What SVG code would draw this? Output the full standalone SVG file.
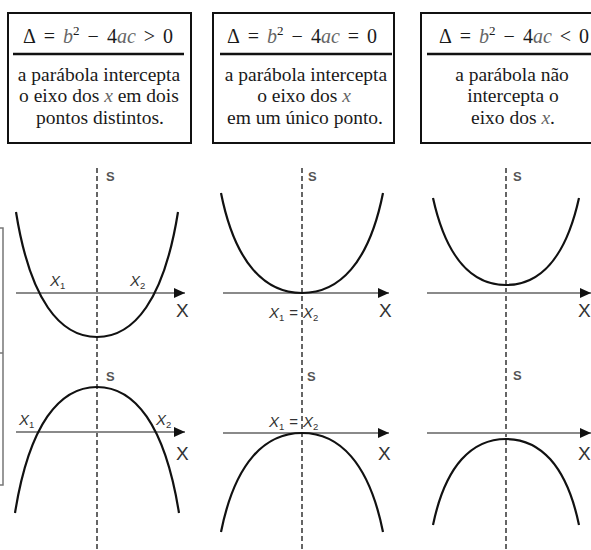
<svg xmlns="http://www.w3.org/2000/svg" width="591" height="550" viewBox="0 0 591 550">
<defs>
<style>
.box{fill:#fff;stroke:#111;stroke-width:2}
.div{stroke:#111;stroke-width:2.5}
.f{font-family:"Liberation Serif","Times New Roman",serif;font-size:20px;fill:#1a1a1a;text-anchor:middle}
.t{font-family:"Liberation Serif","Times New Roman",serif;font-size:19.5px;fill:#1a1a1a;text-anchor:middle}
.it{font-style:italic;fill:#666}
.sup{font-size:13px}
.dash{stroke:#555;stroke-width:1.8;stroke-dasharray:5 3;fill:none}
.axis{stroke:#8a8a8a;stroke-width:2.2;fill:none;marker-end:url(#ah)}
.curve{stroke:#111;stroke-width:2.2;fill:none}
.s{font-family:"Liberation Sans",Arial,sans-serif;font-size:13px;font-weight:bold;fill:#555}
.x{font-family:"Liberation Sans",Arial,sans-serif;font-size:19px;fill:#333}
.xi{font-family:"Liberation Sans",Arial,sans-serif;font-size:15px;font-style:italic;fill:#333}
.sub{font-size:9.5px;font-style:normal}
.brk{stroke:#777;stroke-width:1.5;fill:none}
</style>
<marker id="ah" markerUnits="userSpaceOnUse" markerWidth="11" markerHeight="10" refX="11" refY="5" orient="auto">
<path d="M0,0 L11,5 L0,10 z" fill="#111"/>
</marker>
</defs>
<rect width="591" height="550" fill="#fff"/>

<g id="box1">
<rect class="box" x="8" y="13" width="183" height="130"/>
<line class="div" x1="13" y1="54" x2="184" y2="54"/>
<text class="f" x="98" y="43">Δ<tspan dx="8">=</tspan><tspan dx="8" class="it">b</tspan><tspan class="sup" dy="-8">2</tspan><tspan dy="8" dx="8">−</tspan><tspan dx="8">4</tspan><tspan class="it">ac</tspan><tspan dx="8">&gt;</tspan><tspan dx="8">0</tspan></text>
<text class="t" x="99" y="81">a parábola intercepta</text>
<text class="t" x="99" y="102">o eixo dos <tspan class="it">x</tspan> em dois</text>
<text class="t" x="100" y="124">pontos distintos.</text>
</g>

<g id="box2">
<rect class="box" x="213" y="13" width="181" height="130"/>
<line class="div" x1="220" y1="54" x2="392" y2="54"/>
<text class="f" x="302" y="43">Δ<tspan dx="8">=</tspan><tspan dx="8" class="it">b</tspan><tspan class="sup" dy="-8">2</tspan><tspan dy="8" dx="8">−</tspan><tspan dx="8">4</tspan><tspan class="it">ac</tspan><tspan dx="8">=</tspan><tspan dx="8">0</tspan></text>
<text class="t" x="306" y="81">a parábola intercepta</text>
<text class="t" x="304" y="102">o eixo dos <tspan class="it">x</tspan></text>
<text class="t" x="305" y="124">em um único ponto.</text>
</g>

<g id="box3">
<rect class="box" x="421" y="13" width="186" height="130"/>
<line class="div" x1="427" y1="54" x2="591" y2="54"/>
<text class="f" x="514" y="43">Δ<tspan dx="8">=</tspan><tspan dx="8" class="it">b</tspan><tspan class="sup" dy="-8">2</tspan><tspan dy="8" dx="8">−</tspan><tspan dx="8">4</tspan><tspan class="it">ac</tspan><tspan dx="8">&lt;</tspan><tspan dx="8">0</tspan></text>
<text class="t" x="512" y="81">a parábola não</text>
<text class="t" x="513" y="102">intercepta o</text>
<text class="t" x="513" y="124">eixo dos <tspan class="it">x</tspan>.</text>
</g>

<g id="bracket">
<path class="brk" d="M0,228 H3 V485 H0 M0,353 H3"/>
</g>

<g id="connectors">
<line class="dash" x1="97" y1="168" x2="97" y2="550"/>
<line class="dash" x1="302" y1="168" x2="302" y2="550"/>
<line class="dash" x1="506" y1="168" x2="506" y2="550"/>
<line class="axis" x1="16" y1="293" x2="185" y2="293"/>
<line class="axis" x1="223" y1="293" x2="389" y2="293"/>
<line class="axis" x1="427" y1="293" x2="591" y2="293"/>
<line class="axis" x1="16" y1="432" x2="185" y2="432"/>
<line class="axis" x1="223" y1="433" x2="389" y2="433"/>
<line class="axis" x1="427" y1="433" x2="591" y2="433"/>
</g>

<g id="graph1">
<path class="curve" d="M16,212 C30,300 60,337 97,337 C134,337 164,300 178,212"/>
<text class="s" x="106" y="181">S</text>
<text class="x" x="176" y="317">X</text>
<text class="xi" x="50" y="286">X<tspan class="sub" dy="3">1</tspan></text>
<text class="xi" x="130" y="286">X<tspan class="sub" dy="3">2</tspan></text>
</g>

<g id="graph2">
<path class="curve" d="M221,193 C235,263.4 265,293 302,293 C339,293 369,263.4 383,193"/>
<text class="s" x="308" y="181">S</text>
<text class="x" x="379" y="317">X</text>
<text class="xi" x="269" y="318">X<tspan class="sub" dy="3">1</tspan><tspan dy="-3" dx="5" font-style="normal">=</tspan><tspan dx="5">X</tspan><tspan class="sub" dy="3">2</tspan></text>
</g>

<g id="graph3">
<path class="curve" d="M433,198 C446.5,259.2 473,285 506,285 C539,285 565.5,259.2 579,198"/>
<text class="s" x="513" y="181">S</text>
<text class="x" x="578" y="317">X</text>
</g>

<g id="graph4">
<path class="curve" d="M15,513 C29.2,424.3 59.5,387 97,387 C134.5,387 164.8,424.3 179,513"/>
<text class="s" x="106" y="381">S</text>
<text class="x" x="176" y="460">X</text>
<text class="xi" x="19" y="425">X<tspan class="sub" dy="3">1</tspan></text>
<text class="xi" x="156" y="425">X<tspan class="sub" dy="3">2</tspan></text>
</g>

<g id="graph5">
<path class="curve" d="M221,532 C235,462.3 265,433 302,433 C339,433 369,462.3 383,532"/>
<text class="s" x="307" y="381">S</text>
<text class="x" x="378" y="460">X</text>
<text class="xi" x="269" y="427">X<tspan class="sub" dy="3">1</tspan><tspan dy="-3" dx="5" font-style="normal">=</tspan><tspan dx="5">X</tspan><tspan class="sub" dy="3">2</tspan></text>
</g>

<g id="graph6">
<path class="curve" d="M433,525 C445.6,464.5 472.6,439 506,439 C539.4,439 566.4,464.5 579,525"/>
<text class="s" x="513" y="380">S</text>
<text class="x" x="578" y="460">X</text>
</g>
</svg>
